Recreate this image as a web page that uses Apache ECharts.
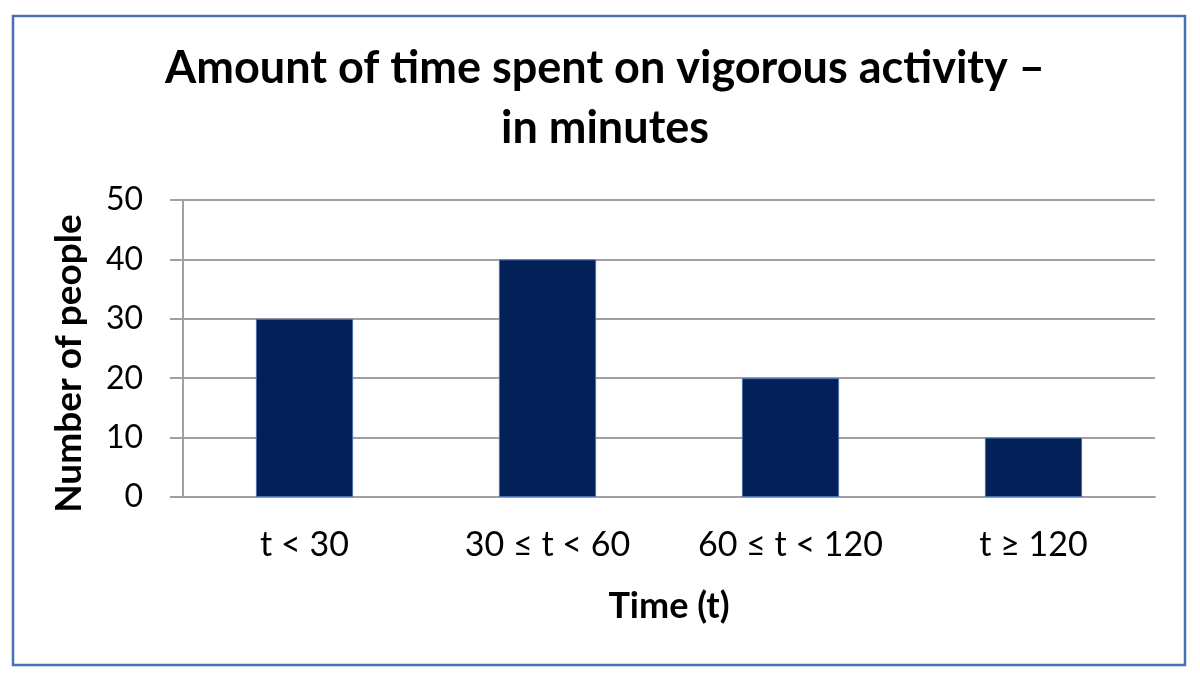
<!DOCTYPE html>
<html><head><meta charset="utf-8">
<script src="https://cdn.jsdelivr.net/npm/echarts@6/dist/echarts.min.js"></script>
<style>html,body{margin:0;padding:0;background:#fff}#c{width:1200px;height:681px}</style>
</head><body><div id="c"></div>
<script>
const categories = ['t < 30', '30 ≤ t < 60', '60 ≤ t < 120', 't ≥ 120'];
const values = [30, 40, 20, 10];
const titleText = 'Amount of time spent on vigorous activity –\nin minutes';
const xTitle = 'Time (t)';
const yTitle = 'Number of people';
const FONT = 'Lato, "Open Sans", sans-serif';
const chart = echarts.init(document.getElementById('c'), null, {renderer: 'canvas'});
chart.setOption({
  animation: false,
  backgroundColor: '#fff',
  graphic: [{type: 'rect', shape: {x: 13, y: 16, width: 1172, height: 649}, style: {fill: 'none', stroke: '#4a6fb5', lineWidth: 2.5}, z: 100}],
  title: {text: titleText, left: 600, textAlign: 'center', top: 33,
    textStyle: {fontFamily: FONT, fontWeight: 'bold', fontSize: 45, color: '#000', lineHeight: 60}},
  grid: {left: 183, right: 45, top: 200, bottom: 184, containLabel: false},
  xAxis: {type: 'category', data: categories,
    name: xTitle, nameLocation: 'middle', nameGap: 91,
    nameTextStyle: {fontFamily: FONT, fontWeight: 'bold', fontSize: 36, color: '#000'},
    axisLine: {lineStyle: {color: '#a0a0a0', width: 2}},
    axisTick: {show: false},
    axisLabel: {fontFamily: FONT, fontSize: 34, color: '#000', margin: 31, interval: 0, hideOverlap: false}},
  yAxis: {type: 'value', min: 0, max: 50, interval: 10,
    name: yTitle, nameLocation: 'middle', nameGap: 95,
    nameTextStyle: {fontFamily: FONT, fontWeight: 'bold', fontSize: 37, color: '#000', padding: [0, 30, 0, 0]},
    axisLine: {show: true, lineStyle: {color: '#a0a0a0', width: 2}},
    axisTick: {show: true, length: 13, lineStyle: {color: '#a0a0a0', width: 2}},
    axisLabel: {fontFamily: FONT, fontSize: 32, color: '#000', margin: 40},
    splitLine: {lineStyle: {color: '#a0a0a0', width: 2}}},
  series: [{type: 'bar', data: values, barWidth: '40%',
    itemStyle: {color: '#042058', borderColor: '#4a6fb5', borderWidth: 1}}]
});
</script></body></html>
